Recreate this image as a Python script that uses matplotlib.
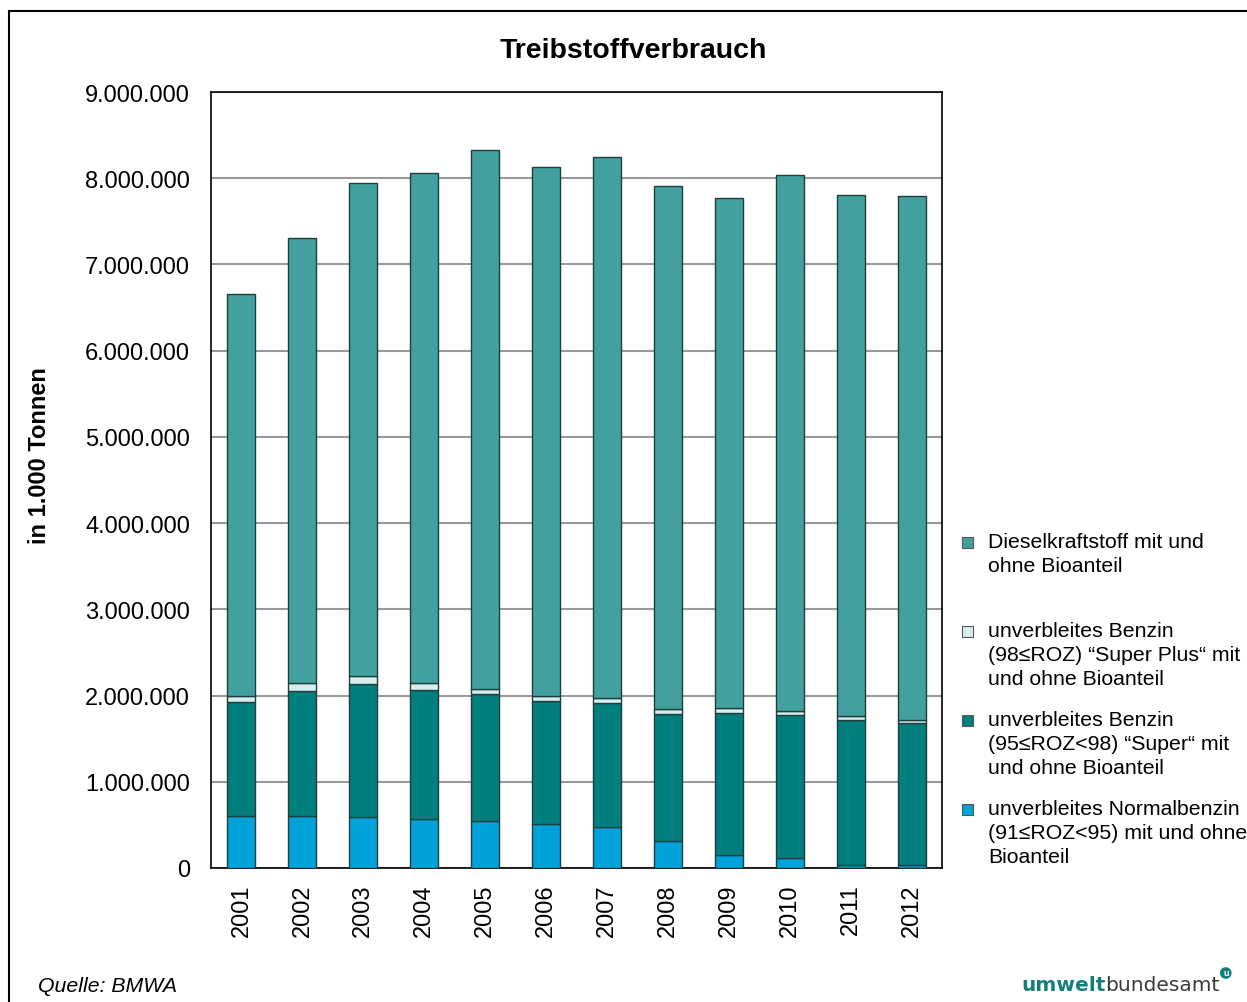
#!/usr/bin/env python

import matplotlib
matplotlib.use("Agg")
import matplotlib.pyplot as plt
from matplotlib.patches import Rectangle
from matplotlib.lines import Line2D
from matplotlib.ticker import FuncFormatter, MultipleLocator

plt.rcParams['font.family'] = ['Liberation Sans', 'DejaVu Sans']

# data (in 1.000 Tonnen)
years = ['2001', '2002', '2003', '2004', '2005', '2006',
         '2007', '2008', '2009', '2010', '2011', '2012']
normal = [600000, 605000, 590000, 570000, 546000, 515000,
          477000, 314000, 151000, 112000, 35000, 35000]
super95 = [1320000, 1445000, 1540000, 1490000, 1469000, 1425000,
           1437000, 1476000, 1649000, 1663000, 1681000, 1645000]
super_plus = [80000, 100000, 100000, 80000, 65000, 60000,
              56000, 50000, 50000, 50000, 51000, 40000]
diesel = [4655000, 5155000, 5715000, 5915000, 6245000, 6125000,
          6275000, 6065000, 5925000, 6210000, 6038000, 6075000]

labels = [
    ['Dieselkraftstoff mit und', 'ohne Bioanteil'],
    ['unverbleites Benzin', '(98≤ROZ) “Super Plus“ mit', 'und ohne Bioanteil'],
    ['unverbleites Benzin', '(95≤ROZ<98) “Super“ mit', 'und ohne Bioanteil'],
    ['unverbleites Normalbenzin', '(91≤ROZ<95) mit und ohne', 'Bioanteil'],
]
colors = ['#42a19e', '#d6eeee', '#007f7e', '#00a2d9']

W, H = 1247, 1003
fig = plt.figure(figsize=(W / 100, H / 100), dpi=100)
ax = fig.add_axes([211 / W, 1 - 869 / H, 731 / W, 776 / H])

x = list(range(len(years)))
bw = 0.46
edge = '#1f3d3d'
bottom = [0] * len(years)
for vals, col in [(normal, colors[3]), (super95, colors[2]),
                  (super_plus, colors[1]), (diesel, colors[0])]:
    ax.bar(x, vals, bw, bottom=bottom, color=col, edgecolor=edge, linewidth=1, zorder=3)
    bottom = [b + v for b, v in zip(bottom, vals)]

ax.set_xlim(-0.5, len(years) - 0.5)
ax.set_ylim(0, 9000000)
ax.yaxis.set_major_locator(MultipleLocator(1000000))
ax.yaxis.set_major_formatter(FuncFormatter(lambda v, p: f"{int(v):,}".replace(",", ".")))
ax.grid(axis='y', color='#999999', linewidth=1.5, zorder=0)
ax.set_xticks(x)
ax.set_xticklabels(years, rotation=90)
ax.tick_params(axis='y', length=0, pad=15, labelsize=17)
ax.tick_params(axis='x', length=0, pad=11, labelsize=17)
for s in ax.spines.values():
    s.set_color('black')
    s.set_linewidth(1.2)

ax.set_ylabel('in 1.000 Tonnen', fontsize=17, fontweight='bold', labelpad=0)
ax.yaxis.set_label_coords(-0.219, 0.533)

fig.text(633 / W, 1 - 51 / H, 'Treibstoffverbrauch', fontsize=20.5, fontweight='bold',
         ha='center', va='center')

# legend, drawn by hand to match the layout
y0 = [543, 632, 721, 810]
for lines, col, yy in zip(labels, colors, y0):
    fig.add_artist(Rectangle(((962) / W, 1 - (yy + 6) / H), 11 / W, 11 / H,
                             transform=fig.transFigure, facecolor=col,
                             edgecolor='#555555', linewidth=0.8))
    for i, ln in enumerate(lines):
        fig.text(988 / W, 1 - (yy + i * 24) / H, ln, fontsize=15.3, va='center', ha='left')

# frame round the figure
fig.add_artist(Line2D([9 / W, 9 / W], [0, 1 - 12 / H], transform=fig.transFigure,
                      color='black', linewidth=1.5))
fig.add_artist(Line2D([9 / W, 1], [1 - 12 / H, 1 - 12 / H], transform=fig.transFigure,
                      color='black', linewidth=1.5))

# footer
fig.text(38 / W, 1 - 987 / H, 'Quelle: BMWA', fontsize=15.3, style='italic', va='center')
t1 = fig.text(1021 / W, 1 - 986 / H, 'umwelt', fontsize=14.5, fontweight='bold',
              color='#137f7c', va='center', ha='left', family='DejaVu Sans')
fig.canvas.draw()
bb = t1.get_window_extent()
t2 = fig.text(bb.x1 / W, 1 - 986 / H, 'bundesamt', fontsize=14.5, color='#3a3a3a',
              va='center', ha='left', family='DejaVu Sans')
fig.canvas.draw()
bb2 = t2.get_window_extent()
fig.text(bb2.x1 / W + 6 / W, 1 - 974 / H, 'u', fontsize=6.5, fontweight='bold', color='white',
         ha='center', va='center',
         bbox=dict(boxstyle='circle,pad=0.15', fc='#137f7c', ec='none'))

fig.savefig('out.png', dpi=100)
